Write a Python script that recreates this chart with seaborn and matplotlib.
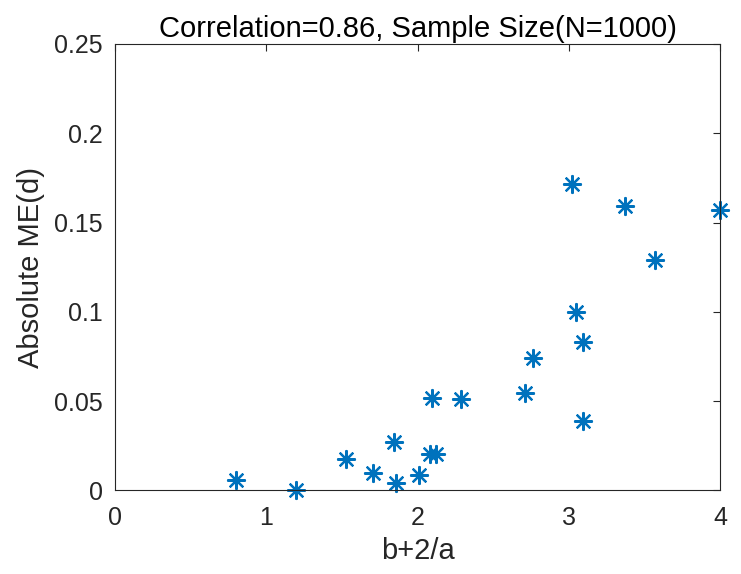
import numpy as np
import pandas as pd
import matplotlib
matplotlib.use('Agg')
import matplotlib.pyplot as plt
import seaborn as sns

# values
b_plus_2a = [0.797, 1.195, 1.526, 1.706, 1.843, 1.856, 2.010, 2.081, 2.125, 2.094,
             2.285, 2.713, 2.763, 3.023, 3.045, 3.093, 3.093, 3.373, 3.571, 4.0]
abs_me = [0.0058, 0.0, 0.0174, 0.0099, 0.0270, 0.0043, 0.0086, 0.0207, 0.0207, 0.0520,
          0.0511, 0.0546, 0.0739, 0.1715, 0.0998, 0.0832, 0.0388, 0.1593, 0.1292, 0.1569]
x_ticks = [0, 1, 2, 3, 4]
y_ticks = [0, 0.05, 0.1, 0.15, 0.2, 0.25]
y_tick_labels = ['0', '0.05', '0.1', '0.15', '0.2', '0.25']

df = pd.DataFrame({'x': b_plus_2a, 'y': abs_me})

sns.set_style('white')
plt.rcParams['font.family'] = ['Liberation Sans', 'DejaVu Sans']

fig = plt.figure(figsize=(7.41, 5.74), dpi=100)
ax = fig.add_axes([0.1552, 0.1455, 0.8165, 0.7779])

# MATLAB style asterisk: vertical, horizontal and two diagonals
sns.scatterplot(data=df, x='x', y='y', ax=ax, marker=(8, 2, 0), s=150,
                color='#0072BD', linewidth=1.6, edgecolor='#0072BD', clip_on=False)

ax.set_xlim(0, 4)
ax.set_ylim(0, 0.25)
ax.set_xticks(x_ticks)
ax.set_xticklabels([str(t) for t in x_ticks])
ax.set_yticks(y_ticks)
ax.set_yticklabels(y_tick_labels)
ax.tick_params(direction='in', length=5, width=0.8, labelsize=18, colors='#262626',
               top=True, right=True, pad=9)
ax.tick_params(axis='x', pad=11)
for s in ax.spines.values():
    s.set_linewidth(0.8)
    s.set_color('#262626')

ax.set_xlabel('b+2/a', fontsize=21, color='#262626', labelpad=5)
ax.set_ylabel('Absolute ME(d)', fontsize=21, color='#262626', labelpad=6)
ax.set_title('Correlation=0.86, Sample Size(N=1000)', fontsize=21, color='black', pad=5)

fig.savefig('out.png', dpi=100)
